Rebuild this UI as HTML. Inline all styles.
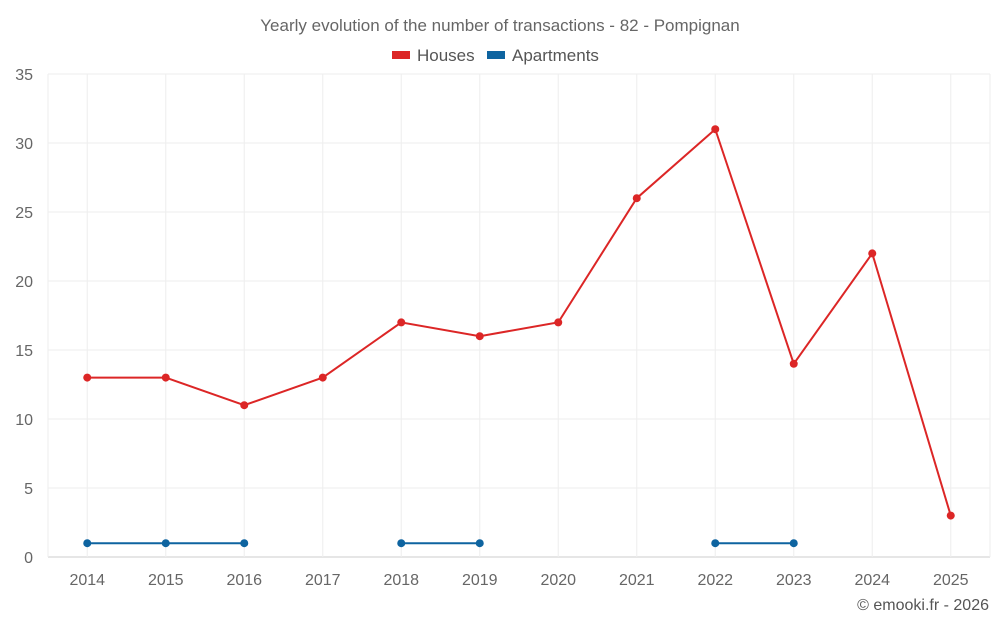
<!DOCTYPE html>
<html><head><meta charset="utf-8"><style>
body{margin:0;background:#fff;font-family:"Liberation Sans",sans-serif}
svg text{font-family:"Liberation Sans",sans-serif}
</style></head><body>
<svg id="chart" width="1000" height="625">
<text x="500" y="31" text-anchor="middle" font-size="17" fill="#666">Yearly evolution of the number of transactions - 82 - Pompignan</text>
<g>
<g><rect x="392" y="51" width="18" height="8" fill="#dc2626"/><text x="417" y="61" font-size="17" fill="#555">Houses</text></g>
<g><rect x="487" y="51" width="18" height="8" fill="#0e64a0"/><text x="512" y="61" font-size="17" fill="#555">Apartments</text></g>
</g>
<g id="grid"></g><g id="axes"></g><g id="series"></g>
<text x="989" y="610" text-anchor="end" font-size="16" fill="#555">© emooki.fr - 2026</text>
</svg>
<script>
const years=[2014,2015,2016,2017,2018,2019,2020,2021,2022,2023,2024,2025];
const houses=[13,13,11,13,17,16,17,26,31,14,22,3];
const apartments=[1,1,1,null,1,1,null,null,1,1,null,null];
const yTicks=[0,5,10,15,20,25,30,35];
const NS="http://www.w3.org/2000/svg";
const L=48,R=990,T=74,B=557,yMax=35;
const band=(R-L)/years.length;
const xs=i=>L+band*(i+0.5);
const ys=v=>B-(v/yMax)*(B-T);
function mk(tag,at,parent){const e=document.createElementNS(NS,tag);for(const k in at)e.setAttribute(k,at[k]);document.getElementById(parent).appendChild(e);return e;}
yTicks.forEach(t=>{
 const l=mk('line',{x1:L,x2:R,y1:ys(t),y2:ys(t),stroke:t===0?'#ccc':'#eee','stroke-width':1},'grid');
 
 
 const tx=mk('text',{x:33,y:ys(t)+6,'text-anchor':'end','font-size':16,fill:'#666'},'axes');tx.textContent=t;
 
 
});
[L,R].forEach(x=>{
 const l=mk('line',{x1:x,x2:x,y1:T,y2:B,stroke:'#eee'},'grid');
 
 
});
years.forEach((y,i)=>{
 const l=mk('line',{x1:xs(i),x2:xs(i),y1:T,y2:B,stroke:'#eee'},'grid');
 
 
 const tx=mk('text',{x:xs(i),y:585,'text-anchor':'middle','font-size':16,fill:'#666'},'axes');tx.textContent=y;
 
 
});
function draw(vals,color,name){
 let seg=[];const segs=[];
 vals.forEach((v,i)=>{if(v===null){if(seg.length)segs.push(seg);seg=[];}else seg.push([xs(i),ys(v)]);});
 if(seg.length)segs.push(seg);
 segs.forEach(s=>{const p=mk('polyline',{points:s.map(q=>q.join(',')).join(' '),fill:'none',stroke:color,'stroke-width':2},'series');
  
  });
 vals.forEach((v,i)=>{if(v===null)return;const c=mk('circle',{cx:xs(i),cy:ys(v),r:4,fill:color},'series');
  
  });
}
draw(houses,'#dc2626','houses');
draw(apartments,'#0e64a0','apartments');
</script>
</body></html>
